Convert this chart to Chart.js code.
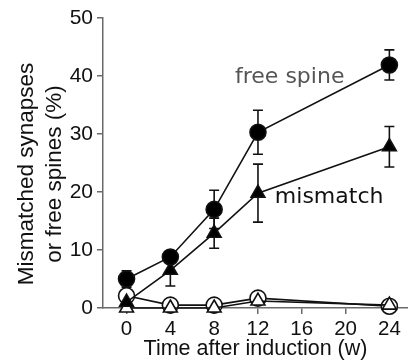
<!DOCTYPE html>
<html>
<head>
<meta charset="utf-8">
<script src="https://cdn.jsdelivr.net/npm/chart.js@4"></script>
<style>
  html, body { margin: 0; padding: 0; background: #fff; overflow: hidden; }
  #wrap { width: 408px; height: 362px; }
  canvas { display: block; }
</style>
</head>
<body>
<div id="wrap"><canvas id="chart" width="408" height="362"></canvas></div>
<script>
// weeks after induction
const weeks = [0, 4, 8, 12, 24];
const xTicks = [0, 4, 8, 12, 16, 20, 24];

// filled circles: free spines (induced)
const freeSpine = [5.0, 8.8, 17.0, 30.3, 41.9];
const freeSpineErr = [1.4, 1.0, 3.3, 3.8, 2.6];

// filled triangles: mismatched synapses (induced)
const mismatch = [1.0, 6.5, 12.9, 19.8, 27.8];
const mismatchErr = [0, 2.7, 2.6, 5.0, 3.5];

// open symbols: controls
const ctrlSpine = [2.1, 0.5, 0.5, 1.7, 0.3];
const ctrlMismatch = [0, 0, 0, 1.2, 0.5];

// in-plot labels: [text, x (weeks), y (%), color]
const notes = [
    ['free spine', 14.9, 39.8, '#555'],
    ['mismatch', 18.5, 19.1, '#111'],
];
const yTitle = ['Mismatched synapses', 'or free spines (%)'];

const AXIS_GRAY = '#6a6a6a';
const SANS = "'Liberation Sans', Arial, Helvetica, sans-serif";

function series(ys) {
    return weeks.map((w, i) => ({ x: w, y: ys[i] }));
}

// draws the SEM bars under the markers
const errorBars = {
    id: 'errorBars',
    beforeDatasetsDraw(chart) {
        const { ctx, scales: { x, y } } = chart;
        ctx.save();
        ctx.strokeStyle = '#111';
        ctx.lineWidth = 1.6;
        chart.data.datasets.forEach(ds => {
            if (!ds.err) return;
            ds.data.forEach((p, i) => {
                const e = ds.err[i];
                if (!e) return;
                const px = x.getPixelForValue(p.x);
                const top = y.getPixelForValue(p.y + e);
                const bot = y.getPixelForValue(p.y - e);
                ctx.beginPath();
                ctx.moveTo(px, top); ctx.lineTo(px, bot);
                ctx.moveTo(px - 5, top); ctx.lineTo(px + 5, top);
                ctx.moveTo(px - 5, bot); ctx.lineTo(px + 5, bot);
                ctx.stroke();
            });
        });
        ctx.restore();
    }
};

// in-plot labels plus the two-line y title (sits a bit below axis centre)
const textLayer = {
    id: 'textLayer',
    afterDatasetsDraw(chart) {
        const { ctx, scales: { x, y } } = chart;
        ctx.save();
        ctx.font = "22px 'DejaVu Sans', Verdana, sans-serif";
        ctx.textAlign = 'center';
        ctx.textBaseline = 'middle';
        notes.forEach(([t, wx, wy, c]) => {
            ctx.fillStyle = c;
            ctx.fillText(t, x.getPixelForValue(wx), y.getPixelForValue(wy));
        });
        ctx.restore();

        ctx.save();
        ctx.font = '22.5px ' + SANS;
        ctx.fillStyle = '#111';
        ctx.textAlign = 'center';
        ctx.textBaseline = 'middle';
        ctx.translate(0, 174);
        ctx.rotate(-Math.PI / 2);
        ctx.fillText(yTitle[0], 0, 27);
        ctx.fillText(yTitle[1], 0, 55);
        ctx.restore();
    }
};

const common = {
    borderColor: '#111',
    borderWidth: 1.6,
    pointRadius: 8,
    pointHoverRadius: 8,
    pointBorderColor: '#111',
    pointBorderWidth: 1.6,
    tension: 0,
    clip: false,
};

new Chart(document.getElementById('chart'), {
    type: 'line',
    data: {
        datasets: [
            { ...common, label: 'free spine', data: series(freeSpine), err: freeSpineErr,
              pointStyle: 'circle', pointBackgroundColor: '#000', order: 1 },
            { ...common, label: 'mismatch', data: series(mismatch), err: mismatchErr,
              pointStyle: 'triangle', pointBackgroundColor: '#000', order: 2 },
            { ...common, label: 'control spine', data: series(ctrlSpine),
              pointStyle: 'circle', pointBackgroundColor: '#fff', order: 4 },
            { ...common, label: 'control mismatch', data: series(ctrlMismatch),
              pointStyle: 'triangle', pointBackgroundColor: '#fff', order: 3 },
        ]
    },
    options: {
        responsive: false,
        animation: false,
        events: [],
        layout: { autoPadding: false, padding: { top: 18, right: 0, left: 0, bottom: 0 } },
        plugins: { legend: { display: false }, tooltip: { enabled: false } },
        scales: {
            x: {
                type: 'linear',
                min: -2.15,
                max: 25.7,
                afterBuildTicks: s => { s.ticks = xTicks.map(v => ({ value: v })); },
                afterFit: s => { s.height = 54; s.paddingLeft = 0; s.paddingRight = 0; },
                grid: { drawOnChartArea: false, tickLength: 6, color: AXIS_GRAY, lineWidth: 1.5 },
                border: { color: AXIS_GRAY, width: 1.5 },
                ticks: { color: '#111', font: { family: SANS, size: 20.5 }, padding: 3, maxRotation: 0 },
                title: { display: true, text: 'Time after induction (w)', color: '#111',
                         font: { family: SANS, size: 21.5 }, padding: 0 },
            },
            y: {
                min: 0,
                max: 50,
                afterFit: s => { s.width = 103; s.paddingTop = 0; s.paddingBottom = 0; },
                grid: { drawOnChartArea: false, tickLength: 6, color: AXIS_GRAY, lineWidth: 1.5 },
                border: { color: AXIS_GRAY, width: 1.5 },
                ticks: { stepSize: 10, color: '#111', font: { family: SANS, size: 21 }, padding: 4 },
            }
        }
    },
    plugins: [errorBars, textLayer]
});
</script>
</body>
</html>
